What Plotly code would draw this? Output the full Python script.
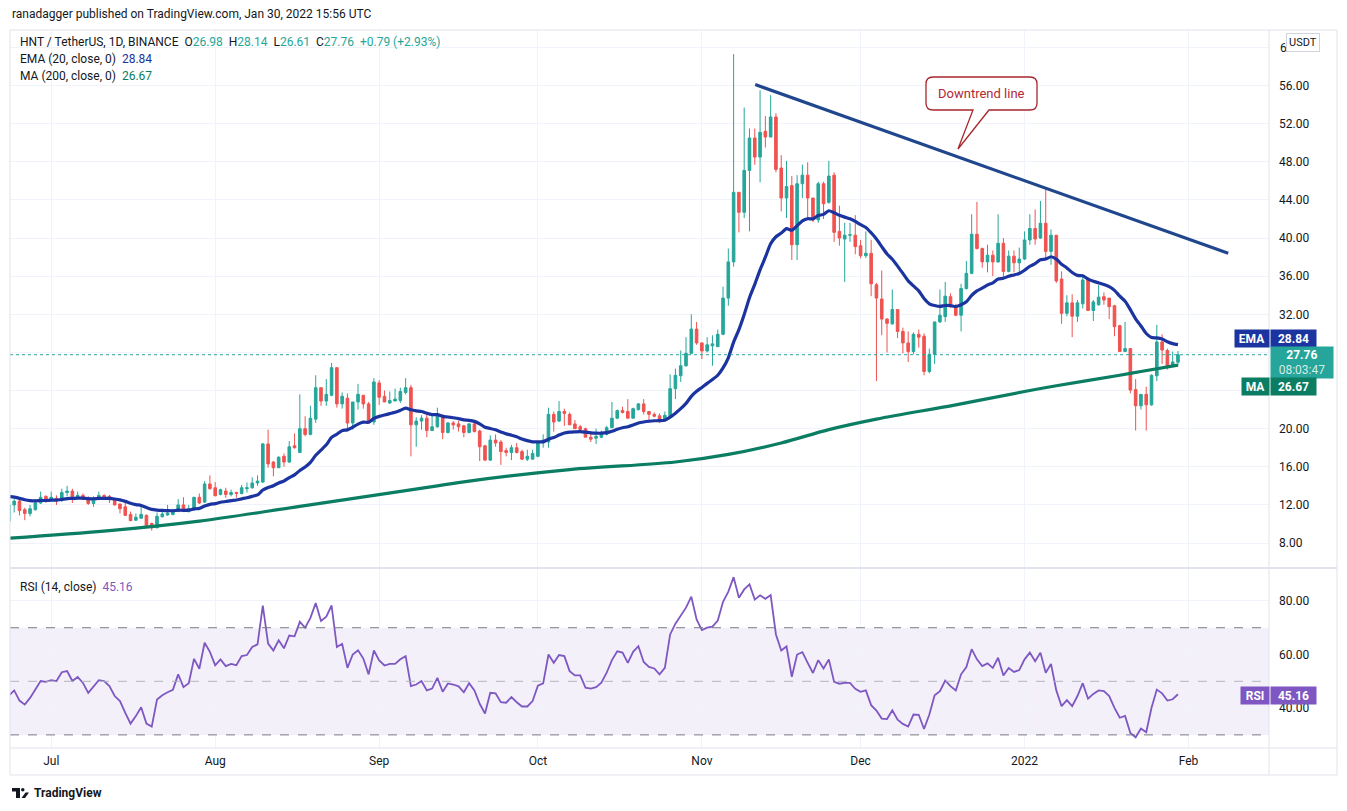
import pandas as pd
import plotly.graph_objects as go
from plotly.subplots import make_subplots

# HNT / USDT daily candles, 23 Jun 2021 .. 30 Jan 2022
START = "2021-06-23"

OPEN = [10.3, 12.0, 12.4, 11.5, 11.1, 11.5, 12.2, 12.9, 12.6, 12.7,
        12.7, 13.3, 13.45, 12.85, 13.0, 12.7, 12.15, 12.6, 13.0, 12.9,
        12.65, 12.1, 11.8, 11.0, 10.4, 10.6, 10.9, 10.05, 9.6, 10.75,
        10.95, 11.0, 11.3, 12.0, 11.3, 11.5, 12.8, 12.3, 14.2, 13.8,
        13.1, 13.45, 13.1, 13.3, 13.2, 13.7, 13.8, 14.3, 14.4, 18.4,
        16.5, 15.9, 17.1, 16.5, 18.2, 17.5, 20.0, 19.4, 21.0, 24.3,
        22.9, 23.5, 26.4, 22.6, 23.2, 20.6, 22.8, 23.5, 22.6, 20.7,
        24.8, 23.4, 22.7, 22.9, 22.95, 23.8, 24.3, 20.4, 20.8, 21.1,
        19.8, 20.2, 21.4, 19.6, 20.6, 20.5, 20.3, 19.6, 20.5, 19.75,
        18.2, 16.7, 18.8, 18.6, 17.7, 17.5, 18.0, 17.6, 16.8, 16.8,
        17.1, 18.5, 18.6, 21.5, 20.8, 21.8, 21.5, 20.5, 20.2, 20.0,
        19.1, 19.0, 19.1, 19.4, 20.1, 21.1, 21.9, 21.8, 21.1, 22.0,
        22.6, 21.8, 21.5, 21.35, 20.9, 21.35, 24.2, 25.55, 26.6, 27.9,
        30.45, 29.0, 28.15, 28.7, 28.6, 29.9, 33.7, 37.5, 44.8, 42.7,
        47.1, 50.5, 48.5, 51.2, 50.6, 52.7, 47.35, 44.2, 45.5, 39.3,
        45.7, 46.6, 44.2, 41.9, 45.7, 43.75, 46.6, 40.7, 39.9, 40.3,
        40.3, 39.2, 38.15, 38.4, 35.1, 33.6, 31.5, 31.0, 32.5, 30.2,
        29.0, 28.1, 29.9, 29.7, 26.0, 27.8, 31.2, 31.75, 33.85, 32.8,
        31.9, 34.7, 36.3, 40.4, 38.9, 37.5, 38.2, 37.5, 39.45, 36.5,
        38.1, 37.4, 37.8, 39.8, 41.0, 40.0, 41.55, 38.6, 40.3, 35.7,
        32.1, 33.2, 31.8, 33.1, 35.7, 32.4, 33.0, 33.85, 33.7, 32.9,
        30.8, 28.1, 28.4, 24.1, 22.4, 23.6, 22.5, 25.55, 29.1, 28.2,
        26.6, 26.98]
HIGH = [12.2, 12.6, 12.6, 11.7, 12.0, 12.6, 13.4, 13.0, 13.4, 13.0,
        13.7, 14.0, 13.7, 13.4, 13.2, 12.9, 12.9, 13.4, 13.1, 13.05,
        12.7, 12.1, 12.2, 11.3, 11.1, 11.8, 11.0, 10.15, 11.2, 11.4,
        12.0, 11.6, 12.6, 12.8, 12.0, 12.8, 13.2, 14.5, 15.1, 14.4,
        13.7, 13.8, 13.6, 13.4, 14.1, 14.35, 14.9, 15.1, 18.5, 19.9,
        16.6, 17.1, 17.4, 18.7, 19.5, 23.6, 21.3, 22.4, 25.6, 24.3,
        25.2, 26.9, 26.4, 23.8, 23.7, 22.8, 24.7, 23.5, 22.8, 25.3,
        25.1, 24.0, 23.9, 24.2, 24.3, 25.3, 24.6, 21.2, 21.4, 21.5,
        21.4, 22.2, 21.5, 20.7, 20.8, 20.8, 20.4, 20.6, 20.6, 19.9,
        18.3, 19.3, 19.4, 18.8, 18.0, 18.3, 18.5, 17.8, 17.8, 17.8,
        18.6, 19.4, 22.2, 21.8, 22.9, 22.1, 21.7, 20.9, 20.4, 20.1,
        19.6, 20.0, 19.8, 20.3, 22.8, 22.0, 22.3, 23.1, 22.2, 22.7,
        23.1, 21.8, 21.7, 21.6, 21.8, 25.7, 26.3, 28.2, 29.6, 32.0,
        31.2, 29.0, 29.6, 29.8, 30.4, 34.9, 38.9, 59.3, 44.8, 53.7,
        51.5, 51.5, 55.5, 52.8, 55.0, 53.1, 48.7, 48.1, 46.5, 46.6,
        47.7, 47.95, 44.2, 45.9, 45.9, 48.1, 46.9, 43.4, 41.6, 41.6,
        42.4, 39.8, 40.7, 39.8, 35.3, 36.6, 31.6, 34.6, 32.5, 30.6,
        30.2, 30.1, 30.4, 30.0, 28.4, 31.2, 34.6, 35.4, 34.2, 33.1,
        35.2, 37.6, 42.5, 43.8, 39.0, 39.3, 38.7, 42.5, 40.0, 38.7,
        38.7, 39.0, 40.7, 42.5, 43.0, 43.9, 45.2, 40.9, 40.3, 36.5,
        34.0, 34.1, 33.5, 36.0, 35.9, 33.5, 35.1, 34.3, 33.7, 33.0,
        30.9, 31.2, 28.4, 25.2, 23.6, 24.4, 25.7, 30.9, 29.9, 28.4,
        28.1, 28.14]
LOW = [10.1, 11.2, 10.9, 10.4, 10.8, 11.4, 12.1, 12.2, 12.4, 12.0,
       12.3, 12.9, 12.2, 12.7, 12.5, 12.0, 11.8, 12.5, 12.7, 12.2,
       11.95, 11.1, 10.9, 10.3, 10.3, 10.6, 9.8, 9.3, 9.55, 10.7,
       10.85, 10.9, 11.3, 11.3, 11.2, 11.4, 12.1, 12.2, 13.6, 12.95,
       13.0, 12.75, 12.9, 12.75, 13.1, 13.3, 13.7, 14.0, 14.3, 15.9,
       15.0, 15.9, 16.0, 16.4, 17.9, 17.5, 19.2, 19.3, 20.6, 22.4,
       22.4, 23.4, 22.2, 22.1, 19.9, 19.9, 22.0, 22.1, 20.6, 20.4,
       22.5, 22.8, 22.6, 22.9, 22.7, 23.6, 17.1, 18.1, 19.9, 19.1,
       19.8, 20.1, 18.9, 19.5, 19.9, 19.7, 19.1, 19.5, 19.6, 16.6,
       16.6, 16.6, 18.1, 16.2, 17.1, 16.7, 17.4, 16.7, 16.6, 16.8,
       17.0, 18.0, 18.0, 19.7, 20.7, 20.3, 20.4, 20.0, 19.6, 19.1,
       18.6, 18.4, 19.0, 19.3, 20.1, 21.0, 21.6, 21.1, 21.1, 21.9,
       21.5, 20.7, 21.2, 20.6, 20.9, 21.3, 23.1, 24.9, 26.5, 27.9,
       28.8, 27.3, 28.0, 26.6, 28.6, 29.8, 32.9, 37.0, 40.6, 42.1,
       40.7, 47.7, 45.85, 49.5, 50.6, 46.9, 42.8, 42.1, 37.7, 37.7,
       44.2, 41.9, 41.7, 41.6, 42.0, 43.6, 39.6, 39.2, 35.4, 39.6,
       38.3, 37.9, 37.9, 33.9, 25.0, 29.8, 28.0, 30.9, 29.5, 27.9,
       27.0, 27.8, 28.5, 25.6, 25.8, 26.8, 31.1, 31.2, 32.7, 31.8,
       30.2, 34.6, 36.2, 38.8, 36.9, 36.4, 36.0, 37.4, 35.8, 36.4,
       36.4, 36.3, 37.7, 39.3, 39.3, 39.9, 37.8, 37.2, 35.3, 31.0,
       31.8, 29.6, 31.2, 32.6, 32.4, 31.3, 32.9, 33.0, 31.5, 29.7,
       28.1, 28.1, 23.7, 19.8, 22.0, 19.8, 22.4, 25.0, 26.8, 26.2,
       26.5, 26.61]
CLOSE = [12.0, 12.4, 11.4, 11.1, 11.6, 12.2, 12.8, 12.5, 12.8, 12.6,
         13.3, 13.45, 12.85, 13.0, 12.6, 12.15, 12.6, 13.0, 12.8, 12.65,
         12.0, 11.6, 10.9, 10.35, 10.7, 11.0, 9.8, 9.6, 10.8, 11.05,
         11.15, 11.3, 12.0, 11.3, 11.6, 12.8, 12.2, 14.2, 13.7, 12.95,
         13.6, 13.1, 13.3, 13.2, 13.8, 13.8, 14.3, 14.5, 18.4, 16.3,
         15.9, 17.0, 16.5, 18.1, 18.0, 20.0, 19.4, 21.1, 24.3, 22.9,
         23.6, 26.4, 22.6, 23.4, 20.6, 22.8, 23.6, 22.6, 20.6, 24.9,
         23.3, 22.8, 22.95, 23.1, 23.9, 24.3, 20.4, 20.8, 21.1, 19.8,
         20.2, 21.4, 19.6, 20.6, 20.4, 20.2, 19.6, 20.5, 19.7, 18.1,
         16.7, 18.8, 18.5, 17.6, 17.5, 18.0, 17.5, 16.8, 17.1, 17.4,
         18.5, 18.8, 21.5, 20.7, 21.8, 21.6, 20.4, 20.0, 19.9, 19.1,
         18.9, 19.2, 19.5, 20.1, 21.1, 21.9, 21.7, 21.1, 22.1, 22.6,
         21.8, 21.5, 21.3, 20.9, 21.4, 24.2, 25.6, 26.6, 27.9, 30.45,
         29.0, 28.15, 28.8, 28.9, 29.9, 33.7, 37.5, 44.8, 42.7, 47.1,
         50.5, 48.5, 51.1, 50.6, 52.7, 47.2, 44.2, 45.4, 39.3, 45.7,
         46.6, 44.2, 41.9, 45.7, 43.6, 46.5, 40.6, 40.0, 40.3, 40.35,
         39.1, 38.15, 38.4, 35.2, 33.7, 31.5, 31.05, 32.5, 30.2, 29.0,
         28.1, 29.9, 29.6, 26.0, 27.8, 31.2, 31.9, 33.9, 32.8, 31.9,
         34.7, 36.3, 40.4, 38.9, 37.5, 38.2, 37.5, 39.45, 36.5, 38.1,
         37.4, 37.8, 39.8, 41.0, 39.9, 41.55, 38.6, 40.3, 35.5, 32.1,
         33.2, 31.8, 33.2, 35.6, 32.4, 33.3, 33.8, 33.5, 32.8, 30.7,
         28.1, 28.4, 24.05, 22.4, 23.6, 22.5, 25.6, 29.1, 28.25, 26.5,
         27.0, 27.76]

RSI = [44.7, 46.6, 42.8, 41.3, 43.8, 46.9, 50.1, 49.8, 50.4, 50.1,
       53.4, 53.8, 50.1, 51.6, 49.4, 45.7, 48.2, 50.4, 50.1, 48.2,
       44.5, 42.6, 38.2, 34.2, 37.0, 40.3, 34.2, 33.1, 43.2, 44.8,
       45.9, 46.8, 52.6, 47.8, 49.3, 58.4, 54.7, 64.4, 61.0, 56.0,
       58.2, 55.7, 56.5, 56.0, 59.4, 59.8, 62.8, 63.8, 78.3, 64.1,
       61.5, 65.3, 62.3, 67.1, 66.8, 72.2, 70.0, 73.7, 79.2, 72.5,
       74.1, 78.3, 62.8, 64.0, 55.0, 60.0, 61.6, 58.5, 52.6, 61.5,
       57.8, 55.9, 56.5, 56.5, 58.2, 59.4, 48.2, 48.8, 50.1, 46.6,
       47.3, 51.3, 46.1, 49.2, 48.8, 48.1, 45.9, 49.3, 46.6, 41.6,
       38.0, 45.7, 45.5, 42.2, 42.0, 44.1, 42.2, 40.6, 40.6, 42.6,
       48.4, 49.2, 60.0, 56.9, 59.8, 59.4, 53.8, 52.2, 52.2, 47.6,
       47.3, 47.8, 49.5, 53.2, 57.9, 61.2, 60.7, 56.9, 61.0, 63.1,
       57.2, 55.4, 54.8, 52.6, 55.0, 67.5, 71.5, 74.4, 77.5, 81.6,
       73.1, 69.1, 70.0, 70.4, 72.7, 79.7, 83.5, 88.9, 81.2, 84.3,
       86.2, 80.5, 82.1, 80.8, 82.2, 67.5, 61.5, 63.0, 51.7, 60.0,
       60.9, 56.9, 53.1, 57.9, 54.8, 58.2, 49.8, 49.1, 49.4, 49.4,
       47.2, 46.1, 46.6, 41.1, 39.1, 36.1, 35.9, 39.2, 35.7, 34.1,
       33.1, 37.6, 37.5, 32.2, 37.6, 44.8, 46.3, 50.3, 48.2, 46.6,
       52.6, 55.3, 62.0, 58.2, 55.7, 56.7, 55.0, 58.8, 52.2, 55.0,
       53.5, 54.2, 58.2, 60.7, 57.5, 60.7, 53.2, 56.5, 46.6, 40.7,
       43.0, 40.7, 44.5, 49.3, 43.5, 45.3, 46.6, 46.3, 44.5, 40.1,
       36.4, 37.1, 30.7, 29.1, 32.4, 31.0, 40.1, 46.9, 45.5, 42.8,
       43.3, 45.16]

# EMA(20) seed taken from the line's value at the left edge
EMA_SEED = 12.96
EMA_SPAN = 20

# 200-day MA at a few candles (0-based candle index)
MA_IDX = [0, 19, 36, 55, 81, 87, 106, 126, 136, 146, 155, 164, 179, 193, 198, 210, 214, 221]
MA_VAL = [8.5, 9.3, 10.3, 11.85, 14.0, 14.5, 15.7, 16.5, 17.3, 18.5, 19.9, 21.0, 22.5, 24.0, 24.5, 25.6, 26.0, 26.67]

# downtrend line drawn on the chart
TREND_X = ["2021-11-11 02:00", "2022-02-08 12:00"]
TREND_Y = [56.1, 38.4]

MONTHS = ["2021-07-01", "2021-08-01", "2021-09-01", "2021-10-01",
          "2021-11-01", "2021-12-01", "2022-01-01", "2022-02-01"]
MONTH_TEXT = ["Jul", "Aug", "Sep", "Oct", "Nov", "Dec", "2022", "Feb"]
PRICE_TICKS = list(range(8, 61, 4))
HIDDEN_TICKS = [24, 28, 60]   # covered by the price tags / USDT box
RSI_TICKS = [40, 60, 80]

UP = "#26a69a"
DOWN = "#ef5350"
EMA_COLOR = "#1b34a0"
MA_COLOR = "#0b7d62"
TREND_COLOR = "#20468e"
RSI_COLOR = "#7e57c2"
TXT = "#131722"
GRID = "#f0f3fa"
BORDER = "#e0e3eb"
FONT = "Roboto"

dates = pd.date_range(START, periods=len(CLOSE), freq="D")

ema = []
e = EMA_SEED
k = 2 / (EMA_SPAN + 1)
for c in CLOSE:
    e = e + k * (c - e)
    ema.append(e)

# page puts the figure 8px in from the top-left corner
OFF = 8
W, H = 1347 - OFF, 811 - OFF
# plot area in screen pixels
L, R, T, B = 10, 1269, 30, 748


def px(x):
    return (x - L) / (R - L)


def py(y):
    return (B - y) / (B - T)


fig = make_subplots(rows=2, cols=1, shared_xaxes=True, vertical_spacing=0,
                    row_heights=[538, 180])

fig.add_trace(go.Candlestick(
    x=dates, open=OPEN, high=HIGH, low=LOW, close=CLOSE,
    increasing=dict(line=dict(color=UP, width=1), fillcolor=UP),
    decreasing=dict(line=dict(color=DOWN, width=1), fillcolor=DOWN),
    whiskerwidth=0, showlegend=False, hoverinfo="skip"), row=1, col=1)

fig.add_trace(go.Scatter(
    x=[dates[i] for i in MA_IDX], y=MA_VAL, mode="lines",
    line=dict(color=MA_COLOR, width=3.2, shape="spline", smoothing=1.0),
    showlegend=False, hoverinfo="skip"), row=1, col=1)

fig.add_trace(go.Scatter(
    x=dates, y=ema, mode="lines",
    line=dict(color=EMA_COLOR, width=3.2, shape="spline", smoothing=0.6),
    showlegend=False, hoverinfo="skip"), row=1, col=1)

fig.add_trace(go.Scatter(
    x=TREND_X, y=TREND_Y, mode="lines",
    line=dict(color=TREND_COLOR, width=3.2),
    showlegend=False, hoverinfo="skip"), row=1, col=1)

fig.add_trace(go.Scatter(
    x=dates, y=RSI, mode="lines",
    line=dict(color=RSI_COLOR, width=1.8),
    showlegend=False, hoverinfo="skip"), row=2, col=1)

fig.update_xaxes(type="date", range=["2021-06-23 05:00", "2022-02-16 05:00"],
                 tickvals=MONTHS, ticktext=MONTH_TEXT, showgrid=True,
                 gridcolor=GRID, gridwidth=1, zeroline=False, showline=False,
                 ticks="", tickfont=dict(family=FONT, size=12, color=TXT),
                 rangeslider_visible=False)
fig.update_xaxes(showticklabels=False, row=1, col=1)
fig.update_xaxes(showticklabels=True, ticklabelstandoff=4, row=2, col=1)

fig.update_yaxes(side="right", range=[5.38, 61.83], tickvals=PRICE_TICKS,
                 ticktext=["" if v in HIDDEN_TICKS else f"{v:.2f}" for v in PRICE_TICKS],
                 showgrid=True, gridcolor=GRID, zeroline=False, showline=False, ticks="",
                 ticklabelstandoff=9,
                 tickfont=dict(family=FONT, size=12, color=TXT), row=1, col=1)
fig.update_yaxes(side="right", range=[25.1, 92.3], tickvals=RSI_TICKS,
                 ticktext=[f"{v:.2f}" for v in RSI_TICKS], showgrid=True,
                 gridcolor=GRID, zeroline=False, showline=False, ticks="",
                 ticklabelstandoff=9,
                 tickfont=dict(family=FONT, size=12, color=TXT), row=2, col=1)

shapes = []
# RSI band and levels
shapes.append(dict(type="rect", xref="x2 domain", yref="y2", x0=0, x1=1, y0=30, y1=70,
                   fillcolor="rgba(126,87,194,0.09)", line=dict(width=0), layer="below"))
for lvl, col in [(70, "#787b86"), (50, "#b2b5be"), (30, "#787b86")]:
    shapes.append(dict(type="line", xref="x2 domain", yref="y2", x0=0, x1=1, y0=lvl, y1=lvl,
                       line=dict(color=col, width=1, dash="dash")))
# last price line
shapes.append(dict(type="line", xref="x domain", yref="y", x0=0, x1=1,
                   y0=CLOSE[-1], y1=CLOSE[-1], line=dict(color=UP, width=1, dash="dot")))
# frame
shapes.append(dict(type="rect", xref="paper", yref="paper", x0=px(10), x1=px(1337),
                   y0=py(775), y1=py(30), line=dict(color=BORDER, width=1)))
shapes.append(dict(type="line", xref="paper", yref="paper", x0=px(1269), x1=px(1269),
                   y0=py(775), y1=py(30), line=dict(color=BORDER, width=1)))
shapes.append(dict(type="line", xref="paper", yref="paper", x0=px(10), x1=px(1337),
                   y0=py(568), y1=py(568), line=dict(color=BORDER, width=2)))
shapes.append(dict(type="line", xref="paper", yref="paper", x0=px(10), x1=px(1337),
                   y0=py(748), y1=py(748), line=dict(color=BORDER, width=1)))

# "Downtrend line" callout bubble
bx0, bx1, by0, by1, r = 926, 1037, 77, 110, 7
pts = [("M", bx0 + r, by0), ("L", bx1 - r, by0), ("Q", bx1, by0, bx1, by0 + r),
       ("L", bx1, by1 - r), ("Q", bx1, by1, bx1 - r, by1), ("L", 989, by1),
       ("L", 958, 149), ("L", 973, by1), ("L", bx0 + r, by1),
       ("Q", bx0, by1, bx0, by1 - r), ("L", bx0, by0 + r), ("Q", bx0, by0, bx0 + r, by0)]
path = ""
for p in pts:
    cmd = p[0]
    coords = p[1:]
    parts = []
    for i in range(0, len(coords), 2):
        parts.append(f"{px(coords[i]):.5f},{py(coords[i + 1]):.5f}")
    path += cmd + " " + " ".join(parts) + " "
path += "Z"
shapes.append(dict(type="path", xref="paper", yref="paper", path=path,
                   fillcolor="white", line=dict(color="#a8262c", width=1.3)))

# small TradingView logo
shapes.append(dict(type="rect", xref="paper", yref="paper", x0=px(12), x1=px(20),
                   y0=py(791.5), y1=py(788), fillcolor=TXT, line=dict(width=0)))
shapes.append(dict(type="rect", xref="paper", yref="paper", x0=px(16), x1=px(20),
                   y0=py(798), y1=py(788), fillcolor=TXT, line=dict(width=0)))
shapes.append(dict(type="circle", xref="paper", yref="paper", x0=px(21), x1=px(24.5),
                   y0=py(791.5), y1=py(788), fillcolor=TXT, line=dict(width=0)))
shapes.append(dict(type="path", xref="paper", yref="paper",
                   path=f"M {px(21.5)},{py(798)} L {px(25.5)},{py(792.5)} L {px(29)},{py(792.5)} L {px(25)},{py(798)} Z",
                   fillcolor=TXT, line=dict(width=0)))

ann = []


def text(x, y, s, size=12, color=TXT, anchor="left", **kw):
    ann.append(dict(xref="paper", yref="paper", x=px(x), y=py(y), text=s, showarrow=False,
                    xanchor=anchor, yanchor="middle",
                    font=dict(family=FONT, size=size, color=color), **kw))


def tag(x0, x1, y0, y1, s, bg, color="white", size=12):
    ann.append(dict(xref="paper", yref="paper", x=px(x0), y=py((y0 + y1) / 2), text=s,
                    showarrow=False, xanchor="left", yanchor="middle", width=x1 - x0,
                    height=y1 - y0, bgcolor=bg, borderpad=0, align="center",
                    font=dict(family=FONT, size=size, color=color)))


def teal(s):
    return f"<span style='color:{UP}'>{s}</span>"


text(10, 14, "ranadagger published on TradingView.com, Jan 30, 2022 15:56 UTC", size=12)
text(18, 42, "HNT / TetherUS, 1D, BINANCE&nbsp;&nbsp;O" + teal("26.98") + "&nbsp;&nbsp;H" + teal("28.14")
     + "&nbsp;&nbsp;L" + teal("26.61") + "&nbsp;&nbsp;C" + teal("27.76") + "&nbsp;&nbsp;"
     + teal("+0.79 (+2.93%)"), size=12)
text(18, 59, f"EMA (20, close, 0)&nbsp;&nbsp;<span style='color:{EMA_COLOR}'>28.84</span>", size=12)
text(18, 76, f"MA (200, close, 0)&nbsp;&nbsp;<span style='color:{MA_COLOR}'>26.67</span>", size=12)
text(18, 587, f"RSI (14, close)&nbsp;&nbsp;<span style='color:{RSI_COLOR}'>45.16</span>", size=12)
text(981, 93, "Downtrend line", size=13, color="#b22833", anchor="center")
text(32, 793, "<b>TradingView</b>", size=12)
text(1278, 48, "6", size=12)

ann.append(dict(xref="paper", yref="paper", x=px(1303), y=py(43), text="USDT", showarrow=False,
                xanchor="center", yanchor="middle", bgcolor="white", bordercolor="#d1d4dc",
                borderwidth=1, borderpad=2, font=dict(family=FONT, size=11, color=TXT)))

tag(1234, 1268, 330, 347, "<b>EMA</b>", EMA_COLOR)
tag(1270, 1315, 330, 347, "<b>28.84</b>", EMA_COLOR)
tag(1270, 1332, 347, 378, "<b>27.76</b><br><span style='color:rgba(255,255,255,0.8)'>08:03:47</span>", UP)
tag(1241, 1268, 378, 395, "<b>MA</b>", MA_COLOR)
tag(1270, 1315, 378, 395, "<b>26.67</b>", MA_COLOR)
tag(1240, 1268, 687, 704, "<b>RSI</b>", RSI_COLOR)
tag(1270, 1315, 687, 704, "<b>45.16</b>", RSI_COLOR)

fig.update_layout(
    width=W, height=H,
    margin=dict(l=L - OFF, r=W - (R - OFF), t=T - OFF, b=H - (B - OFF)),
    paper_bgcolor="white", plot_bgcolor="white",
    shapes=shapes, annotations=ann, showlegend=False,
    font=dict(family=FONT, color=TXT),
)

fig.write_html("out.html")
